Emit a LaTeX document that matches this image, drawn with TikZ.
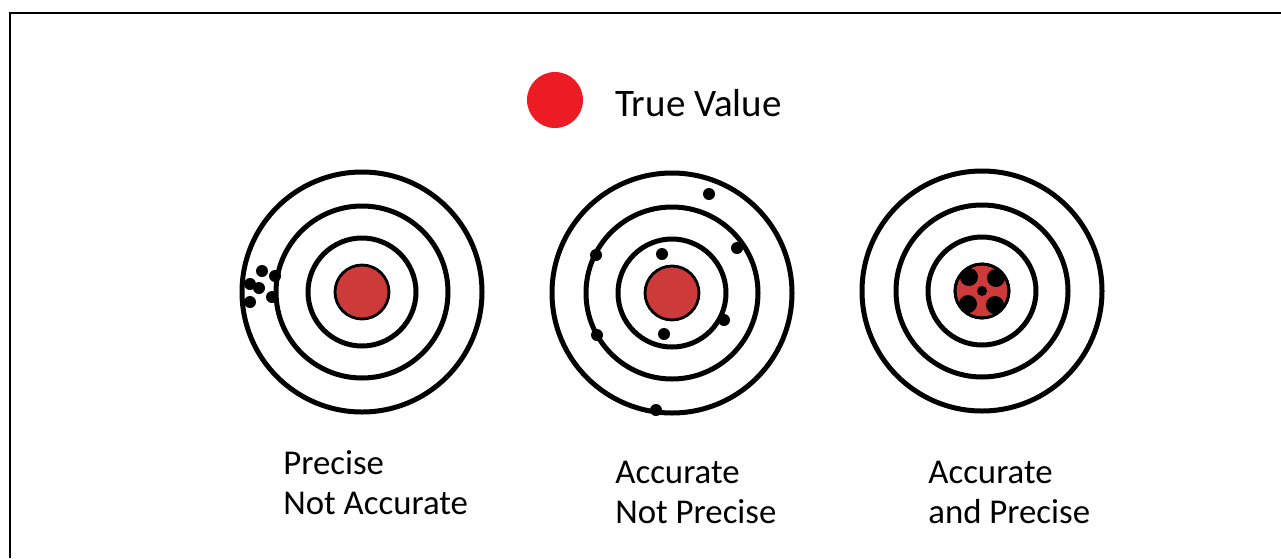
\documentclass[tikz,border=0pt]{standalone}
\usepackage{fontspec}
\setmainfont{Carlito}
\definecolor{bull}{RGB}{204,58,58}
\definecolor{truered}{RGB}{237,28,36}
\begin{document}
\begin{tikzpicture}[x=0.5pt,y=-0.5pt,
  ring/.style={line width=2.5pt},
  eye/.style={fill=bull,draw=black,line width=1.4pt},
  hit/.style={fill=black},
  lbl/.style={anchor=north west,inner sep=0pt,align=left,
    font=\fontsize{17.4}{20}\selectfont}]
  \useasboundingbox (0,0) rectangle (1281,558);
  \draw[line width=1.1pt] (10,558) -- (10,13) -- (1281,13);

  % legend
  \fill[truered] (555,100) circle (28);
  \node[anchor=base west,inner sep=0pt,font=\fontsize{19.5}{23}\selectfont]
    (truelbl) at (615,116) {True Value};

  % three targets
  \foreach \cx/\cy in {362/292,672/293,982/291}{
    \foreach \r in {54,86,120}
      \draw[ring] (\cx,\cy) circle (\r);
    \filldraw[eye] (\cx,\cy) circle (27);
  }

  % precise, not accurate
  \foreach \hx/\hy in {262/271,275/276,250/284,259/288,272/297,250/302}
    \fill[hit] (\hx,\hy) circle (6);

  % accurate, not precise
  \foreach \hx/\hy in {709/194,596/255,662/254,737/248,724/320,597/335,664/334,656/410}
    \fill[hit] (\hx,\hy) circle (6);

  % accurate and precise
  \fill[black] (982,291) circle (5);
  \foreach \dx/\dy in {-13/-14,14/-13,-14/13,13/14}
    \fill[hit] (982+\dx,291+\dy) circle (9);
  \draw[line width=1.4pt] (982,291) circle (27);

  % captions
  \node[lbl] (lblA) at (283,450) {Precise\\Not Accurate};
  \node[lbl] (lblB) at (615,461) {Accurate\\Not Precise};
  \node[lbl] (lblC) at (928,461) {Accurate\\and Precise};
\end{tikzpicture}
\end{document}
